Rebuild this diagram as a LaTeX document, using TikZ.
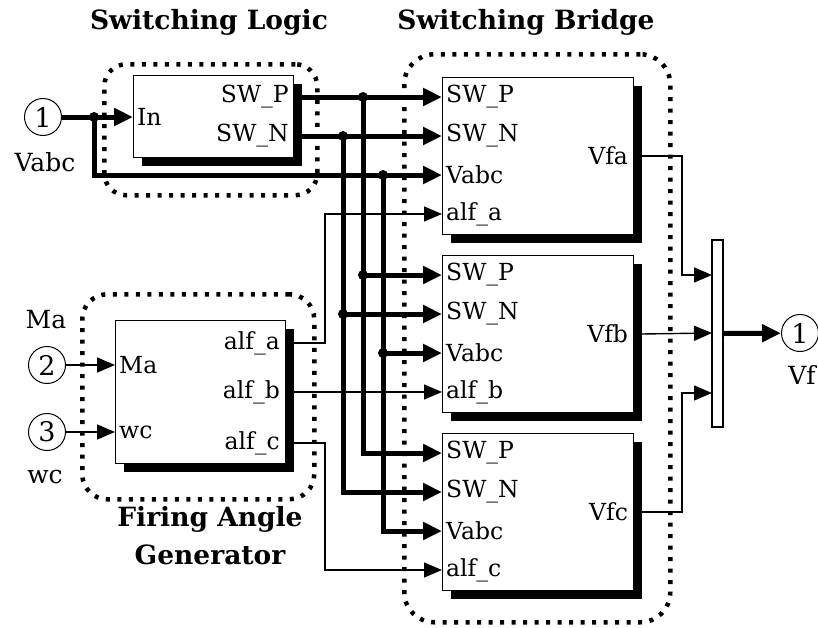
\documentclass[tikz,border=0pt]{standalone}
\usepackage{fontspec}
\setmainfont{DejaVu Serif}
\usetikzlibrary{arrows.meta, shadows, positioning}

\begin{document}
\begin{tikzpicture}[x=1pt, y=-1pt,
blk/.style={rectangle, draw=black, line width=1.2pt, fill=white, anchor=north west,
  drop shadow={shadow xshift=8pt, shadow yshift=-8pt, fill=black, opacity=1}},
inl/.style={anchor=west, inner sep=4pt, font=\fontsize{23.5}{26}\selectfont},
outl/.style={anchor=east, inner sep=6pt, font=\fontsize{23.5}{26}\selectfont},
port/.style={circle, draw=black, line width=1pt, fill=white, minimum size=37pt,
  inner sep=0pt, font=\fontsize{27}{30}\selectfont},
plab/.style={font=\fontsize{25}{28}\selectfont, inner sep=0pt},
group/.style={draw=black, line width=4.5pt, dash pattern=on 4pt off 7.5pt, anchor=north west},
ttl/.style={font=\fontsize{26.5}{38}\selectfont\bfseries, align=center},
bus/.style={line width=5pt, -{Triangle[length=19pt, width=17pt]}},
sig/.style={line width=1.4pt, -{Triangle[length=18pt, width=15pt]}},
jdot/.style={circle, fill=black, inner sep=0pt, minimum size=10pt}]
\useasboundingbox (0,0) rectangle (818,627);

% dotted groups
\node[group, rounded corners=22pt, minimum width=213pt, minimum height=131pt] (slgrp) at (102,62) {};
\node[group, rounded corners=30pt, minimum width=266pt, minimum height=568pt] (brgrp) at (402,52) {};
\node[group, rounded corners=25pt, minimum width=232pt, minimum height=205pt] (fggrp) at (80,292) {};
\node[ttl] (slttl) at (209,22) {Switching Logic};
\node[ttl] (brttl) at (526,22) {Switching Bridge};
\node[ttl] (fgttl) at (210,536) {Firing Angle\\Generator};

% inports / outport
\node[port] (vin) at (43,117) {1};
\node[plab] (vinlab) at (45,162) {Vabc};
\node[port] (ma) at (47,365) {2};
\node[plab] (malab) at (46,320) {Ma};
\node[port] (wc) at (47,432) {3};
\node[plab] (wclab) at (45,477) {wc};
\node[port] (vout) at (800,333) {1};
\node[plab] (voutlab) at (802,375) {Vf};

% switching logic
\node[blk, minimum width=160pt, minimum height=82pt] (sl) at (133,75) {};
\node[inl] (sl-in) at (133,117) {In};
\node[outl, inner sep=4pt] (sl-swp) at (293,97) {SW\_P};
\node[outl, inner sep=4pt] (sl-swn) at (293,136) {SW\_N};

% firing angle generator
\node[blk, minimum width=170pt, minimum height=143pt] (fg) at (115,320) {};
\node[inl] (fg-ma) at (115,365) {Ma};
\node[inl] (fg-wc) at (115,432) {wc};
\node[outl, inner sep=5pt] (fg-a) at (285,343) {alf\_a};
\node[outl, inner sep=5pt] (fg-b) at (285,392) {alf\_b};
\node[outl, inner sep=5pt] (fg-c) at (285,443) {alf\_c};

% switching bridges
\foreach \p/\ty in {a/77, b/255, c/433} {
  \node[blk, minimum width=191pt, minimum height=157pt] (br\p) at (442,\ty) {};
  \node[inl] (br\p-swp) at (442,\ty+20) {SW\_P};
  \node[inl] (br\p-swn) at (442,\ty+59) {SW\_N};
  \node[inl] (br\p-vabc) at (442,\ty+98) {Vabc};
  \node[inl] (br\p-alf) at (442,\ty+137) {alf\_\p};
  \node[outl] (br\p-out) at (br\p.east) {Vf\p};
}

% mux
\node[draw=black, line width=1.2pt, fill=white, minimum width=11pt, minimum height=187pt,
  inner sep=0pt] (mux) at (717.5,333.5) {};
\coordinate (mxa) at (712,275);
\coordinate (mxb) at (712,333);
\coordinate (mxc) at (712,393);
\coordinate (ka) at (682,275);
\coordinate (kc) at (682,393);

% junctions
\coordinate (j0) at (94,117);
\coordinate (jp1) at (363,97);
\coordinate (jn1) at (343,136);
\coordinate (jv1) at (383,175);
\coordinate (jp2) at (363,275);
\coordinate (jn2) at (343,314);
\coordinate (jv2) at (383,353);

% thick signals
\draw[bus] (vin) -- (sl-in.west);
\draw[bus] (j0) |- (bra-vabc.west);
\draw[bus] (sl-swp.east) -- (bra-swp.west);
\draw[bus] (sl-swn.east) -- (bra-swn.west);
\draw[bus] (jp1) |- (brc-swp.west);
\draw[bus] (jn1) |- (brc-swn.west);
\draw[bus] (jv1) |- (brc-vabc.west);
\draw[bus] (jp2) -- (brb-swp.west);
\draw[bus] (jn2) -- (brb-swn.west);
\draw[bus] (jv2) -- (brb-vabc.west);
\draw[bus] (mux.east) -- (vout);
\foreach \j in {j0, jp1, jn1, jv1, jp2, jn2, jv2}
  \node[jdot] at (\j) {};

% thin signals
\draw[sig] (ma) -- (fg-ma.west);
\draw[sig] (wc) -- (fg-wc.west);
\draw[sig] (fg-a.east) -- ++(40,0) |- (bra-alf.west);
\draw[sig] (fg-b.east) -- (brb-alf.west);
\draw[sig] (fg-c.east) -- ++(40,0) |- (brc-alf.west);
\draw[sig] (bra.east) -| (ka) -- (mxa);
\draw[sig] (brb.east) -- (mxb);
\draw[sig] (brc.east) -| (kc) -- (mxc);
\end{tikzpicture}
\end{document}
